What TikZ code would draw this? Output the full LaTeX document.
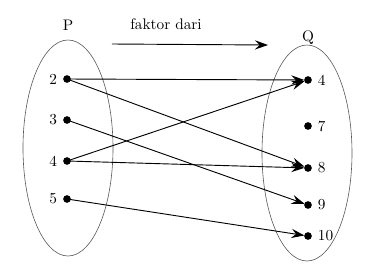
\documentclass[tikz,border=0pt]{standalone}
\usepackage{tikz}
\usetikzlibrary{arrows.meta}

\begin{document}
\begin{tikzpicture}[x=0.023cm,y=-0.023cm,
    arr/.style={-{Stealth[length=8.5pt,width=6pt,inset=3pt]}, line width=0.6pt, shorten >=2.4pt, shorten <=1pt}]
  \useasboundingbox (0,0) rectangle (371,278);
  % the two sets
  \draw[gray!70!black] (68,148) ellipse [x radius=45, y radius=108];
  \draw[gray!70!black] (307,153) ellipse [x radius=45, y radius=108];
  \node (P) at (68,25) {P};
  \node (Q) at (308,38) {Q};
  % relation name
  \node (rel) at (166,24) {faktor dari};
  \coordinate (RS) at (112,44);
  \coordinate (RE) at (268,45);
  \draw[arr, shorten >=0pt, shorten <=0pt] (RS) -- (RE);
  % elements of P
  \coordinate (p2) at (67,79);
  \coordinate (p3) at (67,120);
  \coordinate (p4) at (67,161);
  \coordinate (p5) at (67,199);
  % elements of Q
  \coordinate (q4) at (308,80);
  \coordinate (q7) at (308,126);
  \coordinate (q8) at (308,168);
  \coordinate (q9) at (308,205);
  \coordinate (q10) at (308,236);
  \foreach \p in {2,3,4,5} {
    \fill (p\p) circle (2.5pt);
    \node[left=3pt] (lp\p) at (p\p) {\p};
  }
  \foreach \q in {4,7,8,9,10} {
    \fill (q\q) circle (2.5pt);
    \node[right=3pt] (lq\q) at (q\q) {\q};
  }
  % pairs
  \draw[arr] (p2) -- (q4);
  \draw[arr] (p2) -- (q8);
  \draw[arr] (p3) -- (q9);
  \draw[arr] (p4) -- (q4);
  \draw[arr] (p4) -- (q8);
  \draw[arr] (p5) -- (q10);
\end{tikzpicture}
\end{document}
